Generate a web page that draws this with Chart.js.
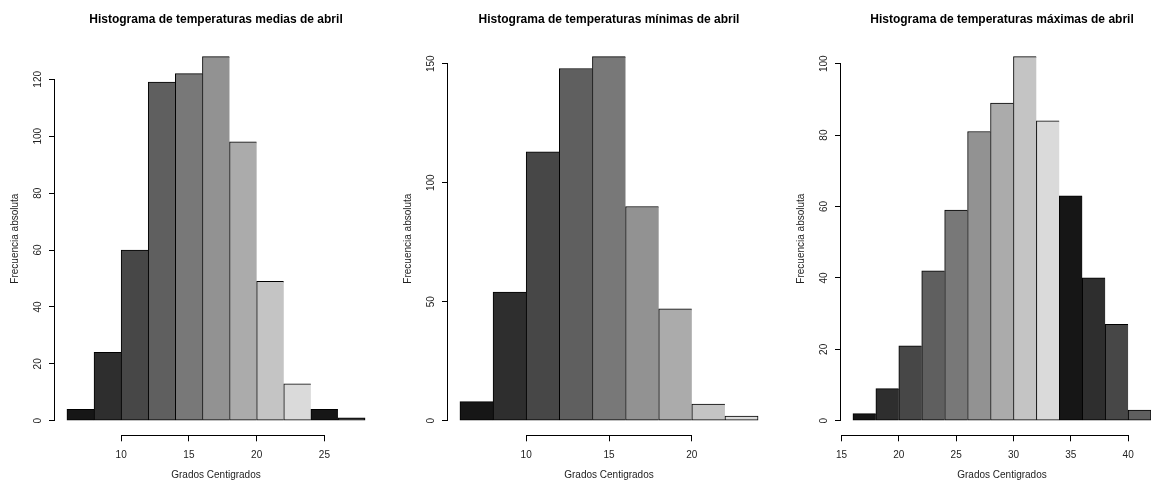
<!DOCTYPE html>
<html>
<head>
<meta charset="utf-8">
<script src="https://cdn.jsdelivr.net/npm/chart.js@4.4.0/dist/chart.umd.min.js"></script>
<style>
  html, body { margin: 0; padding: 0; background: #fff; overflow: hidden; }
  #wrap { position: relative; width: 1151px; height: 481px; overflow: hidden; }
  .panel { position: absolute; top: 0; width: 393px; height: 481px; }
</style>
</head>
<body>
<div id="wrap">
  <div class="panel" style="left:0"><canvas id="c1" width="393" height="481"></canvas></div>
  <div class="panel" style="left:393px"><canvas id="c2" width="393" height="481"></canvas></div>
  <div class="panel" style="left:786px"><canvas id="c3" width="393" height="481"></canvas></div>
</div>
<script>
// bin edges (Grados Centigrados) and counts
const mediasBreaks = [6, 8, 10, 12, 14, 16, 18, 20, 22, 24, 26, 28];
const mediasCounts = [4, 24, 60, 119, 122, 128, 98, 49, 13, 4, 1];
const mediasXTicks = [10, 15, 20, 25];
const mediasYTicks = [0, 20, 40, 60, 80, 100, 120];

const minimasBreaks = [6, 8, 10, 12, 14, 16, 18, 20, 22, 24];
const minimasCounts = [8, 54, 113, 148, 153, 90, 47, 7, 2];
const minimasXTicks = [10, 15, 20];
const minimasYTicks = [0, 50, 100, 150];

const maximasBreaks = [16, 18, 20, 22, 24, 26, 28, 30, 32, 34, 36, 38, 40, 42];
const maximasCounts = [2, 9, 21, 42, 59, 81, 89, 102, 84, 63, 40, 27, 3];
const maximasXTicks = [15, 20, 25, 30, 35, 40];
const maximasYTicks = [0, 20, 40, 60, 80, 100];

const GRAYS = ['#161616', '#2e2e2e', '#474747', '#5f5f5f', '#787878', '#929292', '#ababab', '#c4c4c4', '#dadada'];
const FONT = '"Liberation Sans", Arial, sans-serif';
const TXT = '#222';

// R style axis lines: only from first to last tick
const rAxes = {
    id: 'rAxes',
    afterDraw(chart) {
        const { ctx, chartArea, scales: { x, y } } = chart;
        ctx.save();
        ctx.strokeStyle = '#000';
        ctx.lineWidth = 1;
        ctx.beginPath();
        const by = Math.round(chartArea.bottom) + 0.5;
        ctx.moveTo(x.getPixelForValue(x.ticks[0].value), by);
        ctx.lineTo(x.getPixelForValue(x.ticks[x.ticks.length - 1].value), by);
        const lx = Math.round(chartArea.left) - 0.5;
        ctx.moveTo(lx, y.getPixelForValue(y.ticks[0].value));
        ctx.lineTo(lx, y.getPixelForValue(y.ticks[y.ticks.length - 1].value));
        ctx.stroke();
        ctx.restore();
    }
};

function makeHist(id, title, breaks, counts, xTicks, yTicks) {
    const lo = breaks[0], hi = breaks[breaks.length - 1];
    const xPad = (hi - lo) * 0.04;
    const top = Math.max(...counts);
    const yPad = top * 0.04;
    const last = counts.length - 1;

    return new Chart(document.getElementById(id), {
        type: 'bar',
        data: {
            datasets: [{
                data: counts.map((c, i) => ({ x: (breaks[i] + breaks[i + 1]) / 2, y: c })),
                backgroundColor: counts.map((_, i) => GRAYS[i % GRAYS.length]),
                borderColor: '#000',
                borderWidth: ctx => ctx.dataIndex === last ? 1 : { top: 1, left: 1, bottom: 1, right: 0 },
                borderSkipped: false,
                barPercentage: 1,
                categoryPercentage: 1
            }]
        },
        options: {
            responsive: false,
            animation: false,
            events: [],
            layout: { padding: { left: 0, right: 16, top: 0, bottom: 0 } },
            plugins: {
                legend: { display: false },
                tooltip: { enabled: false },
                title: {
                    display: true, text: title, color: '#000', fullSize: false,
                    font: { family: FONT, size: 12, weight: 'bold', lineHeight: 1.1 },
                    padding: { top: 13.4, bottom: 15.4 }
                }
            },
            scales: {
                x: {
                    type: 'linear', min: lo - xPad, max: hi + xPad, offset: false,
                    afterBuildTicks: s => { s.ticks = xTicks.map(v => ({ value: v })); },
                    afterFit: s => { s.height = 45.7; },
                    border: { display: false },
                    grid: { drawOnChartArea: false, drawTicks: true, tickLength: 6, color: '#000', offset: false },
                    ticks: { color: TXT, font: { family: FONT, size: 10 }, padding: 8, maxRotation: 0, autoSkip: false },
                    title: { display: true, text: 'Grados Centigrados', color: TXT, font: { family: FONT, size: 10, lineHeight: 1 }, padding: { top: 0, bottom: 1 } }
                },
                y: {
                    type: 'linear', min: -yPad, max: top + yPad,
                    afterBuildTicks: s => { s.ticks = yTicks.map(v => ({ value: v })); },
                    afterFit: s => { s.width = 55; },
                    border: { display: false },
                    grid: { drawOnChartArea: false, drawTicks: true, tickLength: 6, color: '#000' },
                    ticks: { color: TXT, font: { family: FONT, size: 10 }, padding: 2, minRotation: 90, maxRotation: 90, crossAlign: 'center', autoSkip: false },
                    title: { display: true, text: 'Frecuencia absoluta', color: TXT, font: { family: FONT, size: 10, lineHeight: 1 }, padding: { top: 10, bottom: 0 } }
                }
            }
        },
        plugins: [rAxes]
    });
}

makeHist('c1', 'Histograma de temperaturas medias de abril', mediasBreaks, mediasCounts, mediasXTicks, mediasYTicks);
makeHist('c2', 'Histograma de temperaturas mínimas de abril', minimasBreaks, minimasCounts, minimasXTicks, minimasYTicks);
makeHist('c3', 'Histograma de temperaturas máximas de abril', maximasBreaks, maximasCounts, maximasXTicks, maximasYTicks);
</script>
</body>
</html>
